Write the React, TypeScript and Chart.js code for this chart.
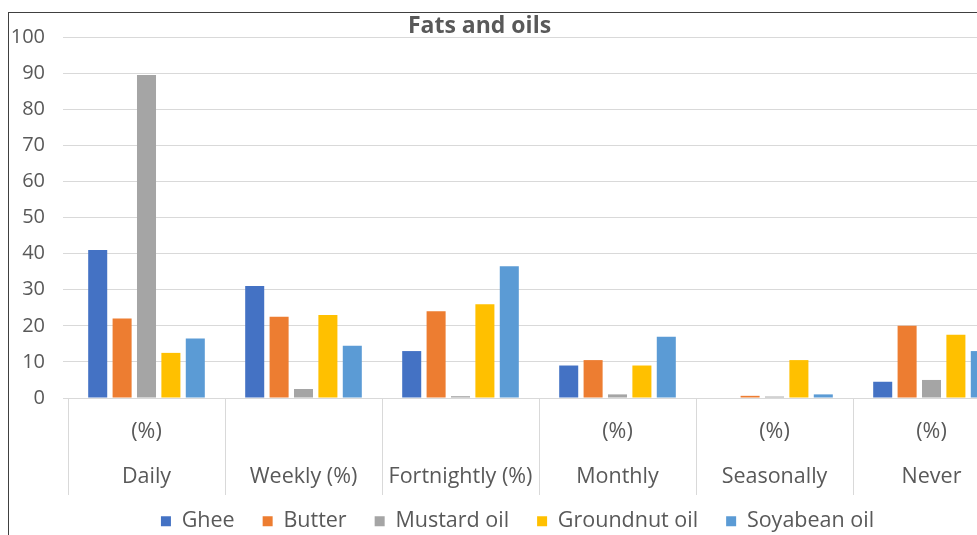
import { useEffect, useRef } from "react";
import { Chart, registerables } from "chart.js";

Chart.register(...registerables);

// Frequency of use; a two-line label puts "(%)" above the category name
const categories: string[][] = [
  ["(%)", "Daily"],
  ["", "Weekly (%)"],
  ["", "Fortnightly (%)"],
  ["(%)", "Monthly"],
  ["(%)", "Seasonally"],
  ["(%)", "Never"],
];

const seriesNames = ["Ghee", "Butter", "Mustard oil", "Groundnut oil", "Soyabean oil"];

const ghee = [41, 31, 13, 9, 0, 4.5];
const butter = [22, 22.5, 24, 10.5, 0.6, 20];
const mustardOil = [89.5, 2.5, 0.5, 1, 0.4, 5];
const groundnutOil = [12.5, 23, 26, 9, 10.5, 17.5];
const soyabeanOil = [16.5, 14.5, 36.5, 17, 1, 13];

const yMin = 0;
const yMax = 100;
const yStep = 10;

const colors = ["#4472C4", "#ED7D31", "#A5A5A5", "#FFC000", "#5B9BD5"];

const FONT = "'Open Sans', 'Noto Sans', sans-serif";
const TEXT = "#595959";
const GRID = "#D9D9D9";

export default function App() {
  const canvasRef = useRef<HTMLCanvasElement | null>(null);

  useEffect(() => {
    if (!canvasRef.current) return;
    const values = [ghee, butter, mustardOil, groundnutOil, soyabeanOil];
    const chart = new Chart(canvasRef.current, {
      type: "bar",
      data: {
        labels: categories,
        datasets: seriesNames.map((name, i) => ({
          label: name,
          data: values[i],
          backgroundColor: colors[i],
          borderWidth: 0,
          categoryPercentage: 0.777,
          barPercentage: 0.78,
        })),
      },
      options: {
        responsive: false,
        animation: false,
        layout: { padding: { top: 24, right: 0, left: 0, bottom: 0 } },
        plugins: {
          title: { display: false },
          tooltip: { enabled: false },
          legend: {
            position: "bottom",
            labels: {
              boxWidth: 10,
              boxHeight: 10,
              padding: 28,
              color: TEXT,
              font: { family: FONT, size: 21.5 },
            },
          },
        },
        scales: {
          x: {
            grid: {
              display: true,
              drawOnChartArea: false,
              drawTicks: true,
              tickLength: 97,
              color: GRID,
              offset: true,
            },
            border: { display: true, color: GRID },
            ticks: {
              // mirrored labels are not clipped to the axis box, so the
              // second line can run down past it beside the dividers
              mirror: true,
              padding: -56.5,
              color: TEXT,
              autoSkip: false,
              maxRotation: 0,
              font: { family: FONT, size: 21.5, lineHeight: "45px" },
            },
            afterFit: (scale: any) => {
              scale.height = 84.5;
            },
          },
          y: {
            min: yMin,
            max: yMax,
            ticks: {
              stepSize: yStep,
              padding: 0,
              color: TEXT,
              font: { family: FONT, size: 20 },
            },
            grid: {
              color: GRID,
              drawTicks: true,
              tickLength: 23,
              tickColor: GRID,
              // only the last few pixels of each tick show, so the
              // gridlines poke slightly out to the left of the plot
              tickBorderDash: [0, 18, 5, 0],
            },
            border: { display: false },
            afterFit: (scale: any) => {
              scale.width = 59;
            },
          },
          // empty margin axis on the right edge of the plot
          yRight: {
            position: "right",
            display: true,
            grid: { display: false, drawTicks: false },
            ticks: { display: false },
            border: { display: false },
            afterFit: (scale: any) => {
              scale.width = 16;
            },
          },
        },
      },
    });
    return () => chart.destroy();
  }, []);

  return (
    <div
      style={{
        position: "fixed",
        left: 8,
        top: 8,
        width: 969,
        height: 527,
        overflow: "hidden",
        background: "#fff",
      }}
    >
      <div
        style={{
          position: "absolute",
          left: 0,
          top: 4,
          right: -100,
          bottom: -100,
          borderTop: "1px solid #404040",
          borderLeft: "1px solid #404040",
        }}
      >
        <canvas ref={canvasRef} width={1017} height={529} style={{ display: "block" }} />
      </div>
      <div
        style={{
          position: "absolute",
          left: 471.5,
          top: 3,
          transform: "translateX(-50%)",
          whiteSpace: "nowrap",
          fontFamily: FONT,
          fontWeight: 700,
          fontSize: 23,
          lineHeight: "26px",
          color: TEXT,
        }}
      >
        Fats and oils
      </div>
    </div>
  );
}
